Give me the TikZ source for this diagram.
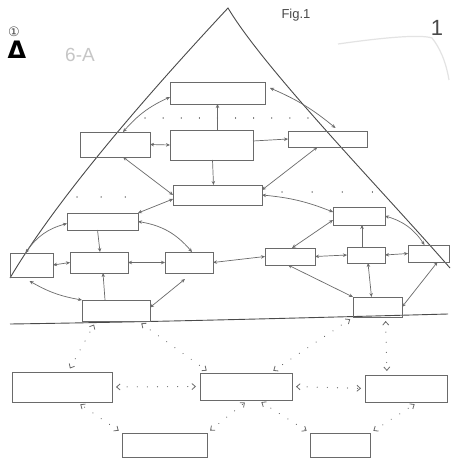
\documentclass[tikz,border=0pt]{standalone}
\usepackage{fontspec}
\newfontfamily\dejavu{DejaVu Sans}
\newfontfamily\hand{Liberation Sans}
\usetikzlibrary{arrows.meta,calc}
\definecolor{ink}{HTML}{6A6A6A}
\definecolor{darkink}{HTML}{4A4A4A}
\begin{document}
\begin{tikzpicture}[x=1pt,y=-1pt,
  box/.style={draw=ink, line width=0.8pt, inner sep=0pt, outer sep=0pt},
  link/.style={draw=ink, line width=0.7pt, >={Stealth[length=4pt,width=3.5pt]}},
  dotlink/.style={draw=ink, line width=1.1pt, line cap=round, dash pattern=on 0.1pt off 10pt,
     >={Straight Barb[length=3.5pt,width=6pt,line width=0.8pt]}, <->, shorten <=4pt, shorten >=4pt},
  lbl/.style={inner sep=0pt, text=darkink}]
\useasboundingbox (0,0) rectangle (450,462);
\fill[white] (0,0) rectangle (450,462);

% faint stroke top right
\draw[gray!22, line width=1.2pt] (338,44) .. controls (380,38) and (420,34) .. (432,38) .. controls (440,48) and (446,62) .. (449,80);

% triangle and base line
\coordinate (apex) at (228,8);
\coordinate (tl) at (10,278);
\coordinate (tr) at (450,268);
\draw[darkink, line width=0.9pt] (tl) .. controls (65,185) and (175,65) .. (apex) .. controls (265,70) and (382,190) .. (tr);
\coordinate (bl) at (10,324);
\coordinate (br) at (448,314);
\draw[darkink, line width=0.9pt] (bl) .. controls (150,322) and (300,318) .. (br);

% labels
\node[lbl, font=\dejavu\fontsize{13}{13}\selectfont] (c1) at (14,32) {①};
\node[lbl, font=\dejavu\bfseries\fontsize{24}{24}\selectfont, text=black] (delta) at (17,50) {Δ};
\node[lbl, font=\hand\fontsize{19}{19}\selectfont, text=gray!45] (sixA) at (80,55) {6-A};
\node[lbl, font=\hand\fontsize{13}{13}\selectfont] (fig) at (296,15) {Fig.1};
\node[lbl, font=\hand\fontsize{22}{22}\selectfont, text=darkink] (pg) at (437,28) {1};

% boxes
\node[box, minimum width=95pt, minimum height=22pt] (A) at (217.5,93) {};
\node[box, minimum width=70pt, minimum height=25pt] (B) at (115,144.5) {};
\node[box, minimum width=83pt, minimum height=30pt] (C) at (211.5,145) {};
\node[box, minimum width=79pt, minimum height=16pt] (D) at (327.5,139) {};
\node[box, minimum width=89pt, minimum height=20pt] (E) at (217.5,195) {};
\node[box, minimum width=71pt, minimum height=17pt] (F) at (102.5,221.5) {};
\node[box, minimum width=52pt, minimum height=18pt] (G) at (359,216) {};
\node[box, minimum width=43pt, minimum height=24pt] (H) at (31.5,265) {};
\node[box, minimum width=58pt, minimum height=21pt] (I) at (99,262.5) {};
\node[box, minimum width=48pt, minimum height=21pt] (J) at (189,262.5) {};
\node[box, minimum width=50pt, minimum height=17pt] (K) at (290,256.5) {};
\node[box, minimum width=38pt, minimum height=16pt] (L) at (366,255) {};
\node[box, minimum width=41pt, minimum height=17pt] (M) at (428.5,253.5) {};
\node[box, minimum width=68pt, minimum height=21pt] (N) at (116,310.5) {};
\node[box, minimum width=49pt, minimum height=20pt] (O) at (377.5,307) {};
\node[box, minimum width=100pt, minimum height=30pt] (P) at (62,387) {};
\node[box, minimum width=92pt, minimum height=27pt] (Q) at (246,386.5) {};
\node[box, minimum width=82pt, minimum height=27pt] (R) at (406,388.5) {};
\node[box, minimum width=85pt, minimum height=24pt] (S) at (164.5,445) {};
\node[box, minimum width=60pt, minimum height=24pt] (T) at (340,445) {};

% dotted separator lines
\draw[ink, line width=1.1pt, line cap=round, dash pattern=on 0.1pt off 18pt] (145,118) -- (310,118);
\draw[ink, line width=1.1pt, line cap=round, dash pattern=on 0.1pt off 24pt] (77,197) -- (130,197);
\draw[ink, line width=1.1pt, line cap=round, dash pattern=on 0.1pt off 30pt] (282,192) -- (378,192);

% upper connectors
\draw[link, <->] ([xshift=8pt]B.north) to[bend left=12] ([yshift=-4pt]A.west);
\draw[link, ->] ([xshift=6pt]C.north) -- (A.south);
\draw[link, <->] ([xshift=5pt,yshift=5pt]A.east) to[bend left=8] ([xshift=8pt,yshift=3pt]D.north);
\draw[link, <->] (B.east) -- (C.west);
\draw[link, ->] ([yshift=4pt]C.east) -- (D.west);
\draw[link, <->] ([xshift=8pt]B.south) -- (E.west);
\draw[link, ->] ([xshift=1pt]C.south) -- ([xshift=-4pt]E.north);
\draw[link, <->] ([xshift=-10pt]D.south) -- ([yshift=5pt]E.east);
\draw[link, <->] ([yshift=-4pt]E.west) -- (F.north east);
\draw[link, <->] (E.east) to[bend left=8] ([yshift=4pt]G.west);

\draw[link, <->] ([yshift=-2pt]F.west) to[bend right=20] ([xshift=-6pt]H.north);
\draw[link, ->] ([xshift=-5pt]F.south) -- ([xshift=1pt]I.north);
\draw[link, <->] (F.east) to[bend left=20] ([xshift=3pt]J.north);
\draw[link, <->] (I.west) -- (H.east);
\draw[link, <->] (I.east) -- (J.west);
\draw[link, <->] (J.east) -- (K.west);
\draw[link, ->] ([xshift=-11pt]N.north) -- ([xshift=4pt]I.south);
\draw[link, <->] (N.north west) to[bend left=10] ([xshift=-2pt,yshift=-4pt]H.south);
\draw[link, <->] ([yshift=3pt]N.east) -- ([xshift=-4pt,yshift=-6pt]J.south);

\draw[link, <->] ([yshift=-4pt]G.west) -- ([xshift=2pt]K.north);
\draw[link, ->] ([xshift=-4pt]L.north) -- ([xshift=3pt]G.south);
\draw[link, <->] (G.east) to[bend left=20] ([xshift=-4pt]M.north);
\draw[link, <->] (K.east) -- (L.west);
\draw[link, <->] (L.east) -- (M.west);
\draw[link, <->] (O.north west) -- ([xshift=-2pt]K.south);
\draw[link, <->] ([xshift=-6pt]O.north) -- ([xshift=2pt]L.south);
\draw[link, <->] (O.east) -- ([xshift=9pt]M.south);

% lower dotted connectors
\draw[dotlink] ([xshift=6pt]P.north) -- ([xshift=-20pt]N.south);
\draw[dotlink] ([xshift=22pt]N.south) -- ([xshift=-36pt]Q.north);
\draw[dotlink] ([xshift=24pt]Q.north) -- ([xshift=-24pt]O.south);
\draw[dotlink] ([xshift=8pt]O.south) -- ([xshift=-19pt]R.north);
\draw[dotlink] (P.east) -- (Q.west);
\draw[dotlink] (Q.east) -- (R.west);
\draw[dotlink] (S.north west) -- ([xshift=15pt]P.south);
\draw[dotlink] (S.north east) -- ([xshift=2pt]Q.south);
\draw[dotlink] ([xshift=12pt]Q.south) -- (T.north west);
\draw[dotlink] (T.north east) -- ([xshift=12pt]R.south);
\end{tikzpicture}
\end{document}
